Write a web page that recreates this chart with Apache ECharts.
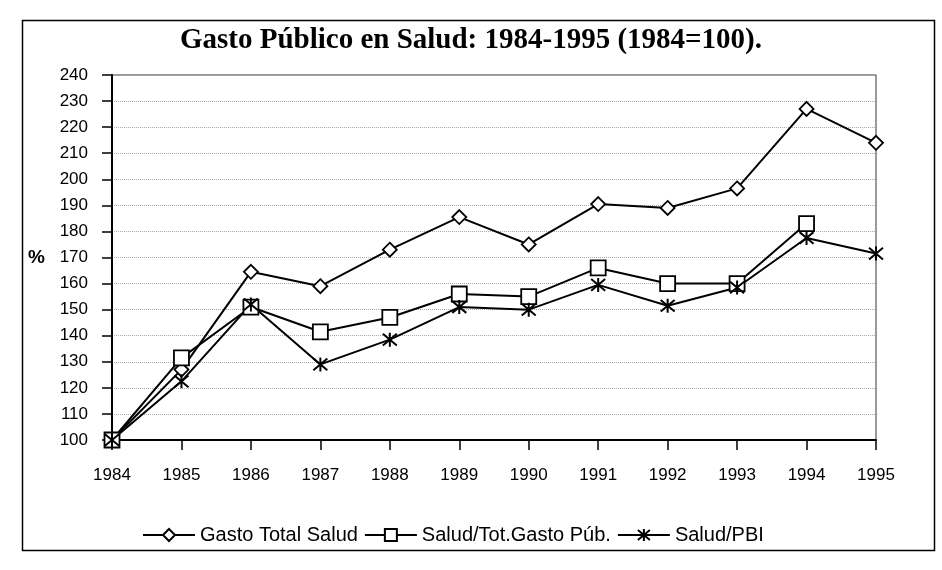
<!DOCTYPE html>
<html>
<head>
<meta charset="utf-8">
<script src="https://cdn.jsdelivr.net/npm/echarts@6/dist/echarts.min.js"></script>
<style>
    html, body { margin: 0; padding: 0; background: #fff; }
    #chart { width: 942px; height: 570px; }
</style>
</head>
<body>
<div id="chart"></div>
<script>
// datos (1984=100)
var years = ['1984', '1985', '1986', '1987', '1988', '1989', '1990', '1991', '1992', '1993', '1994', '1995'];
var gastoTotal = [100, 127, 164.5, 159, 173, 185.5, 175, 190.5, 189, 196.5, 227, 214];
var saludTotGasto = [100, 131.5, 151, 141.5, 147, 156, 155, 166, 160, 160, 183, null];
var saludPBI = [100, 122.5, 152, 129, 138.5, 151, 150, 159.5, 151.5, 158.5, 177.5, 171.5];

var fontSans = '"Liberation Sans", Arial, sans-serif';
var starPath = 'path://M0,0L10,10M10,0L0,10M5,-1L5,11';

var myChart = echarts.init(document.getElementById('chart'));

function serie(name, data, symbol, size) {
    return {
        name: name,
        type: 'line',
        data: data,
        symbol: symbol,
        symbolSize: size,
        showAllSymbol: true,
        connectNulls: false,
        lineStyle: { color: '#000', width: 2 },
        itemStyle: { color: '#fff', borderColor: '#000', borderWidth: 1.8 },
        emphasis: { disabled: true },
        animation: false
    };
}

var star = serie('Salud/PBI', saludPBI, starPath, 14);
star.itemStyle = { color: '#000', borderColor: '#000', borderWidth: 2 };

var option = {
    backgroundColor: '#fff',
    animation: false,
    title: {
        text: 'Gasto Público en Salud: 1984-1995 (1984=100).',
        left: 'center',
        top: 21,
        textStyle: {
            fontFamily: '"Liberation Serif", "Times New Roman", serif',
            fontSize: 29,
            fontWeight: 'bold',
            color: '#000'
        }
    },
    grid: {
        left: 112,
        right: 66,
        top: 75,
        bottom: 130,
        show: true,
        borderColor: '#333',
        borderWidth: 1
    },
    legend: {
        left: 137,
        top: 520,
        itemWidth: 52,
        itemHeight: 15,
        itemGap: 6,
        textStyle: { fontFamily: fontSans, fontSize: 20, color: '#000' },
        data: ['Gasto Total Salud', 'Salud/Tot.Gasto Púb.', 'Salud/PBI']
    },
    xAxis: {
        type: 'category',
        boundaryGap: false,
        data: years,
        axisLine: { lineStyle: { color: '#000', width: 2 } },
        axisTick: { show: true, length: 10, lineStyle: { color: '#000', width: 1.5 } },
        axisLabel: { margin: 27, color: '#000', fontFamily: fontSans, fontSize: 17 },
        splitLine: { show: false }
    },
    yAxis: {
        type: 'value',
        min: 100,
        max: 240,
        interval: 10,
        name: '%',
        nameLocation: 'middle',
        nameRotate: 0,
        nameGap: 67,
        nameTextStyle: { fontFamily: fontSans, fontSize: 19, fontWeight: 'bold', color: '#000' },
        axisLine: { show: true, lineStyle: { color: '#000', width: 2 } },
        axisTick: { show: true, length: 10, lineStyle: { color: '#000', width: 1.5 } },
        axisLabel: { margin: 24, color: '#000', fontFamily: fontSans, fontSize: 17 },
        splitLine: { show: true, lineStyle: { color: '#aaa', type: 'dotted', width: 1 } }
    },
    graphic: [
        {
            type: 'rect',
            left: 20,
            top: 18,
            shape: { width: 912, height: 530 },
            style: { fill: 'none', stroke: '#000', lineWidth: 1.5 },
            silent: true
        }
    ],
    series: [
        serie('Gasto Total Salud', gastoTotal, 'diamond', 14),
        serie('Salud/Tot.Gasto Púb.', saludTotGasto, 'rect', 15),
        star
    ]
};

myChart.setOption(option);
</script>
</body>
</html>
